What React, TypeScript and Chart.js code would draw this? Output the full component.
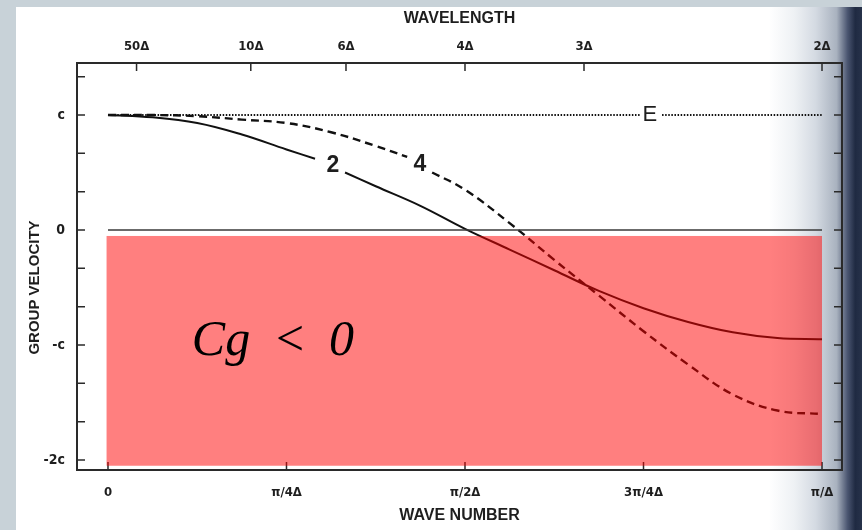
import React, { useEffect, useRef } from 'react';
import { Chart, registerables } from 'chart.js';

Chart.register(...registerables);

// ---- data (wave number k in units of pi/Δ, group velocity in units of c) ----
const K_2 = [0, 0.0625, 0.125, 0.1875, 0.25, 0.29, 0.31, 0.332, 0.375, 0.4375, 0.5, 0.5625, 0.625, 0.6875, 0.75, 0.8125, 0.875, 0.9375, 1];
const V_2 = [1.0, 0.98, 0.93, 0.83, 0.7, 0.62, null, 0.5, 0.38, 0.21, 0.01, -0.17, -0.35, -0.53, -0.68, -0.8, -0.89, -0.94, -0.95];

const K_4 = [0, 0.0625, 0.125, 0.1875, 0.25, 0.3125, 0.375, 0.419, 0.436, 0.454, 0.5, 0.5625, 0.625, 0.6875, 0.75, 0.8125, 0.875, 0.9375, 1];
const V_4 = [1.0, 1.0, 0.99, 0.96, 0.93, 0.85, 0.73, 0.635, null, 0.5, 0.35, 0.06, -0.26, -0.57, -0.88, -1.17, -1.43, -1.57, -1.6];

const K_E = [0, 0.746, 0.76, 0.776, 1];
const V_E = [1, 1, null, 1, 1];

const K_ZERO = [0, 1];
const V_ZERO = [0, 0];

// ---- ticks ----
const X_TICKS = [0, 0.25, 0.5, 0.75, 1];
const X_TICK_LABELS = ['0', 'π/4Δ', 'π/2Δ', '3π/4Δ', 'π/Δ'];
const WAVELENGTHS = [50, 10, 6, 4, 3, 2];
const WAVELENGTH_LABELS = ['50Δ', '10Δ', '6Δ', '4Δ', '3Δ', '2Δ'];
const Y_TICKS = [-2, -5 / 3, -4 / 3, -1, -2 / 3, -1 / 3, 0, 1 / 3, 2 / 3, 1, 4 / 3];
const Y_TICK_LABELS = ['-2c', '', '', '-c', '', '', '0', '', '', 'c', ''];

// ---- annotations ----
const CURVE_LABELS = [
  { text: '2', k: 0.315, v: 0.56 },
  { text: '4', k: 0.437, v: 0.565 },
  { text: 'E', k: 0.759, v: 1.0 },
];
const REGION = { k0: -0.002, k1: 1.0, v0: -0.052, v1: -2.05 };
const REGION_TEXT = { text: 'Cg < 0', k: 0.231, v: -1.087 };

const X_RANGE = [-0.0434, 1.028];
const Y_RANGE = [-2.087, 1.452];

const INK = '#1e1e1e';
const SANS = "'Liberation Sans Narrow', 'DejaVu Sans Condensed', 'Liberation Sans', Arial, sans-serif";
const TITLE_SANS = "'Liberation Sans', Arial, sans-serif";

const pts = (ks: number[], vs: (number | null)[]) => ks.map((k, i) => ({ x: k, y: vs[i] }));

const framePlugin = {
  id: 'frameTicks',
  beforeDatasetsDraw(chart: any) {
    const { ctx, chartArea: a, scales } = chart;
    ctx.save();
    ctx.strokeStyle = '#2a2a2a';
    ctx.lineWidth = 2;
    ctx.strokeRect(a.left, a.top, a.right - a.left, a.bottom - a.top);
    ctx.lineWidth = 1.5;
    ctx.beginPath();
    for (const v of Y_TICKS) {
      const py = scales.y.getPixelForValue(v);
      ctx.moveTo(a.left, py); ctx.lineTo(a.left + 8, py);
      ctx.moveTo(a.right, py); ctx.lineTo(a.right - 8, py);
    }
    for (const v of X_TICKS) {
      const px = scales.x.getPixelForValue(v);
      ctx.moveTo(px, a.bottom); ctx.lineTo(px, a.bottom - 8);
    }
    for (const L of WAVELENGTHS) {
      const px = scales.x2.getPixelForValue(2 / L);
      ctx.moveTo(px, a.top); ctx.lineTo(px, a.top + 8);
    }
    ctx.stroke();
    // y title
    ctx.fillStyle = INK;
    ctx.font = `bold 15px ${TITLE_SANS}`;
    ctx.textAlign = 'center';
    ctx.textBaseline = 'middle';
    ctx.translate(35, scales.y.getPixelForValue(-0.5));
    ctx.rotate(-Math.PI / 2);
    ctx.fillText('GROUP VELOCITY', 0, 0);
    ctx.restore();
  },
  afterDatasetsDraw(chart: any) {
    const { ctx, scales } = chart;
    const x = scales.x, y = scales.y;
    ctx.save();
    // curve labels
    ctx.fillStyle = INK;
    ctx.textAlign = 'center';
    ctx.textBaseline = 'middle';
    for (const l of CURVE_LABELS) {
      ctx.font = l.text === 'E' ? `22px ${TITLE_SANS}` : `bold 23px ${TITLE_SANS}`;
      ctx.fillText(l.text, x.getPixelForValue(l.k), y.getPixelForValue(l.v));
    }
    // red region
    const x0 = x.getPixelForValue(REGION.k0), x1 = x.getPixelForValue(REGION.k1);
    const y0 = y.getPixelForValue(REGION.v0), y1 = y.getPixelForValue(REGION.v1);
    ctx.fillStyle = 'rgba(255, 0, 0, 0.5)';
    ctx.fillRect(x0, y0, x1 - x0, y1 - y0);
    // region text
    ctx.fillStyle = '#000';
    ctx.font = `italic 50px 'Liberation Serif', 'DejaVu Serif', serif`;
    ctx.textAlign = 'center';
    ctx.textBaseline = 'alphabetic';
    ctx.fillText(REGION_TEXT.text.replace(/ /g, ' \u2009'), x.getPixelForValue(REGION_TEXT.k), y.getPixelForValue(REGION_TEXT.v));
    ctx.restore();
  },
};

export default function App() {
  const ref = useRef<HTMLCanvasElement | null>(null);
  useEffect(() => {
    if (!ref.current) return;
    const tickFont = { family: SANS, size: 13, weight: 'bold' as const };
    const titleFont = { family: TITLE_SANS, size: 16, weight: 'bold' as const };
    const chart = new Chart(ref.current, {
      type: 'line',
      data: {
        datasets: [
          { data: pts(K_ZERO, V_ZERO), borderColor: '#3a3a3a', borderWidth: 1.6, pointRadius: 0 },
          { data: pts(K_E, V_E), borderColor: '#111', borderWidth: 2, borderDash: [1.5, 1.6], pointRadius: 0 },
          { data: pts(K_2, V_2), borderColor: '#111', borderWidth: 2, pointRadius: 0, tension: 0.4 },
          { data: pts(K_4, V_4), borderColor: '#111', borderWidth: 2.4, borderDash: [8, 5], pointRadius: 0, tension: 0.4 },
        ] as any,
      },
      options: {
        responsive: false,
        animation: false,
        parsing: false as any,
        spanGaps: false,
        layout: { padding: { left: 0, right: 20, top: 0, bottom: 0 } },
        plugins: { legend: { display: false }, tooltip: { enabled: false }, title: { display: false } },
        scales: {
          x: {
            type: 'linear', position: 'bottom', min: X_RANGE[0], max: X_RANGE[1],
            afterBuildTicks: (s: any) => { s.ticks = X_TICKS.map((v) => ({ value: v })); },
            afterFit: (s: any) => { s.height = 60; },
            ticks: { autoSkip: false, maxRotation: 0, padding: 15, color: INK, font: tickFont, callback: (_v: any, i: number) => X_TICK_LABELS[i] },
            grid: { display: false, drawTicks: false },
            border: { display: false },
            title: { display: true, text: 'WAVE NUMBER', color: INK, font: titleFont, padding: { top: 0, bottom: 5 } },
          },
          x2: {
            type: 'linear', position: 'top', min: X_RANGE[0], max: X_RANGE[1],
            afterBuildTicks: (s: any) => { s.ticks = WAVELENGTHS.map((L) => ({ value: 2 / L })); },
            afterFit: (s: any) => { s.height = 63; },
            ticks: { autoSkip: false, maxRotation: 0, padding: 9, color: INK, font: tickFont, callback: (_v: any, i: number) => WAVELENGTH_LABELS[i] },
            grid: { display: false, drawTicks: false },
            border: { display: false },
            title: { display: true, text: 'WAVELENGTH', color: INK, font: titleFont, padding: { top: 9, bottom: 0 } },
          },
          y: {
            type: 'linear', position: 'left', min: Y_RANGE[0], max: Y_RANGE[1],
            afterBuildTicks: (s: any) => { s.ticks = Y_TICKS.map((v) => ({ value: v })); },
            afterFit: (s: any) => { s.width = 77; },
            ticks: { autoSkip: false, padding: 12, color: INK, font: { ...tickFont, size: 14 }, callback: (_v: any, i: number) => Y_TICK_LABELS[i] },
            grid: { display: false, drawTicks: false },
            border: { display: false },
          },
        },
      } as any,
      plugins: [framePlugin],
    });
    return () => chart.destroy();
  }, []);

  return (
    <div style={{ position: 'fixed', left: 0, top: 0, width: 862, height: 530, background: '#c8d2d8', overflow: 'hidden' }}>
      <div
        style={{
          position: 'absolute', left: 16, top: 7, right: 0, bottom: 0,
          background: 'linear-gradient(to right, #ffffff 0%, #ffffff 89%, #eef1f4 92%, #d4dae2 94.5%, #a9b2bf 97%, #4a5570 98.3%, #1f2a42 99.2%, #27324a 100%)',
        }}
      />
      <canvas ref={ref} width={862} height={530} style={{ position: 'absolute', left: 0, top: 0 }} />
    </div>
  );
}
